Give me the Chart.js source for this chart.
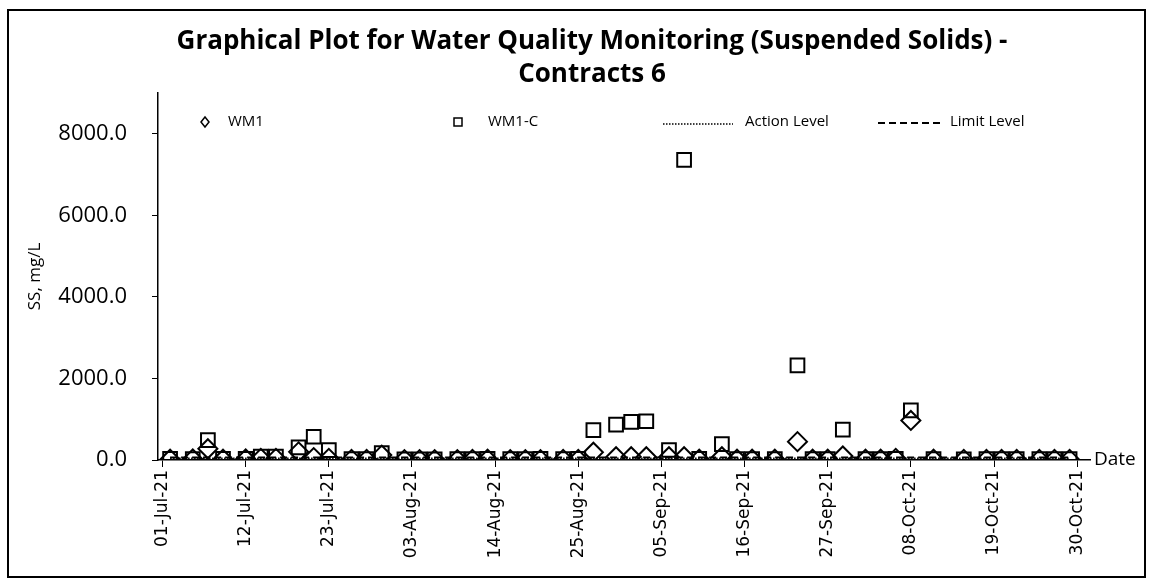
<!DOCTYPE html>
<html>
<head>
<meta charset="utf-8">
<title>Suspended Solids - Contracts 6</title>
<script src="https://cdn.jsdelivr.net/npm/chart.js@4.4.1/dist/chart.umd.min.js"></script>
<style>
  html, body { margin: 0; padding: 0; background: #fff; }
  canvas { display: block; }
</style>
</head>
<body>
<canvas id="chart" width="1152" height="582"></canvas>
<script>
// Fechas de muestreo y resultados de SS (mg/L)
const sampleDates = [
    '2021-07-02', '2021-07-05', '2021-07-07', '2021-07-09', '2021-07-12', '2021-07-14', '2021-07-16',
    '2021-07-19', '2021-07-21', '2021-07-23', '2021-07-26', '2021-07-28', '2021-07-30',
    '2021-08-02', '2021-08-04', '2021-08-06', '2021-08-09', '2021-08-11', '2021-08-13',
    '2021-08-16', '2021-08-18', '2021-08-20', '2021-08-23', '2021-08-25', '2021-08-27',
    '2021-08-30', '2021-09-01', '2021-09-03', '2021-09-06', '2021-09-08', '2021-09-10',
    '2021-09-13', '2021-09-15', '2021-09-17', '2021-09-20', '2021-09-23', '2021-09-25',
    '2021-09-27', '2021-09-29', '2021-10-02', '2021-10-04', '2021-10-06', '2021-10-08',
    '2021-10-11', '2021-10-15', '2021-10-18', '2021-10-20', '2021-10-22', '2021-10-25',
    '2021-10-27', '2021-10-29'
];
const wm1 = [
    20, 25, 275, 20, 25, 40, 40,
    200, 60, 40, 15, 15, 120,
    10, 10, 10, 10, 15, 20,
    10, 10, 10, 15, 15, 190,
    80, 80, 80, 80, 80, 20,
    80, 20, 20, 20, 450, 20,
    20, 100, 20, 20, 40, 970,
    20, 15, 15, 15, 15, 15,
    15, 15
];
const wm1c = [
    25, 20, 490, 30, 30, 85, 85,
    310, 570, 240, 20, 20, 170,
    15, 15, 15, 20, 20, 25,
    20, 20, 25, 20, 25, 730,
    870, 935, 950, 245, 7360, 30,
    390, 20, 20, 20, 2320, 20,
    20, 745, 20, 20, 30, 1215,
    20, 15, 20, 20, 20, 20,
    20, 20
];
const actionLevel = 40;
const limitLevel = 60;

const yTicks = [0, 2000, 4000, 6000, 8000];
const xTickLabels = ['01-Jul-21', '12-Jul-21', '23-Jul-21', '03-Aug-21', '14-Aug-21', '25-Aug-21',
    '05-Sep-21', '16-Sep-21', '27-Sep-21', '08-Oct-21', '19-Oct-21', '30-Oct-21'];
const titleLines = ['Graphical Plot for Water Quality Monitoring (Suspended Solids) -', 'Contracts 6'];

// días contados desde 01-Jul-21
const MONTHS = ['Jan', 'Feb', 'Mar', 'Apr', 'May', 'Jun', 'Jul', 'Aug', 'Sep', 'Oct', 'Nov', 'Dec'];
const DAY0 = Date.UTC(2021, 6, 1);
function isoToDay(s) {
    const p = s.split('-').map(Number);
    return (Date.UTC(p[0], p[1] - 1, p[2]) - DAY0) / 86400000;
}
function labelToDay(s) {
    const p = s.split('-');
    return (Date.UTC(2000 + Number(p[2]), MONTHS.indexOf(p[1]), Number(p[0])) - DAY0) / 86400000;
}

const xs = sampleDates.map(isoToDay);
const firstX = xs[0];
const lastX = xs[xs.length - 1];

const FONT = '"Open Sans", Lato, sans-serif';
Chart.defaults.font.family = FONT;
Chart.defaults.color = '#000';

// fondo, título, leyenda interior, rótulo "Date" y marco
const decor = {
    id: 'decor',
    beforeDraw(chart) {
        const ctx = chart.ctx;
        ctx.save();
        ctx.fillStyle = '#fff';
        ctx.fillRect(0, 0, chart.width, chart.height);
        ctx.restore();
    },
    afterDraw(chart) {
        const ctx = chart.ctx;
        const a = chart.chartArea;
        const ds = chart.data.datasets;
        ctx.save();
        ctx.fillStyle = '#000';
        ctx.strokeStyle = '#000';
        ctx.textBaseline = 'middle';

        // título
        ctx.textAlign = 'center';
        ctx.font = 'bold 26px ' + FONT;
        ctx.fillText(titleLines[0], 592, 42);
        ctx.fillText(titleLines[1], 592, 75);

        ctx.textAlign = 'left';
        ctx.font = '19px ' + FONT;
        ctx.fillText('Date', a.right + 4, a.bottom);

        const ly = a.top + 29;
        ctx.font = '15px ' + FONT;
        ctx.lineWidth = 1.5;
        // WM1
        ctx.beginPath();
        ctx.moveTo(a.left + 43, ly); ctx.lineTo(a.left + 47, ly - 5);
        ctx.lineTo(a.left + 51, ly); ctx.lineTo(a.left + 47, ly + 5);
        ctx.closePath(); ctx.stroke();
        ctx.fillText(ds[0].label, a.left + 70, ly);
        // WM1-C
        ctx.strokeRect(a.left + 296, ly - 4, 8, 8);
        ctx.fillText(ds[1].label, a.left + 330, ly);
        // Action Level
        ctx.setLineDash(ds[2].borderDash);
        ctx.beginPath(); ctx.moveTo(a.left + 505, ly + 2); ctx.lineTo(a.left + 575, ly + 2); ctx.stroke();
        ctx.setLineDash([]);
        ctx.fillText(ds[2].label, a.left + 587, ly);
        // Limit Level
        ctx.lineWidth = 2;
        ctx.setLineDash(ds[3].borderDash);
        ctx.beginPath(); ctx.moveTo(a.left + 720, ly + 1); ctx.lineTo(a.left + 782, ly + 1); ctx.stroke();
        ctx.setLineDash([]);
        ctx.fillText(ds[3].label, a.left + 792, ly);

        ctx.lineWidth = 2;
        ctx.strokeRect(8, 10, chart.width - 15, chart.height - 15);
        ctx.restore();
    }
};

const chart = new Chart(document.getElementById('chart'), {
    type: 'scatter',
    data: {
        datasets: [{
            label: 'WM1',
            data: xs.map((x, i) => ({ x: x, y: wm1[i] })),
            pointStyle: 'rectRot',
            pointRadius: 9.5,
            pointBorderWidth: 2,
            borderColor: '#000',
            backgroundColor: 'rgba(0,0,0,0)'
        }, {
            label: 'WM1-C',
            data: xs.map((x, i) => ({ x: x, y: wm1c[i] })),
            pointStyle: 'rect',
            pointRadius: 9.7,
            pointBorderWidth: 2,
            borderColor: '#000',
            backgroundColor: 'rgba(0,0,0,0)'
        }, {
            label: 'Action Level',
            data: [{ x: firstX, y: actionLevel }, { x: lastX, y: actionLevel }],
            showLine: true,
            borderColor: '#000',
            borderWidth: 1.5,
            borderDash: [1.5, 1.5],
            pointRadius: 0
        }, {
            label: 'Limit Level',
            data: [{ x: firstX, y: limitLevel }, { x: lastX, y: limitLevel }],
            showLine: true,
            borderColor: '#000',
            borderWidth: 2,
            borderDash: [7, 4],
            pointRadius: 0
        }]
    },
    options: {
        responsive: false,
        animation: false,
        devicePixelRatio: 1,
        layout: { padding: { left: 0, right: 62, top: 93, bottom: 0 } },
        plugins: {
            legend: { display: false },
            tooltip: { enabled: false },
            title: { display: false }
        },
        scales: {
            x: {
                type: 'linear',
                min: -0.6,
                max: 122.7,
                afterBuildTicks: (scale) => {
                    scale.ticks = xTickLabels.map(l => ({ value: labelToDay(l) }));
                },
                afterFit: (scale) => { scale.height = 122; },
                ticks: {
                    autoSkip: false,
                    minRotation: 90,
                    maxRotation: 90,
                    padding: 3,
                    font: { family: 'DejaVu Sans', size: 17 },
                    callback: (v, i) => xTickLabels[i]
                },
                grid: { drawOnChartArea: false, tickLength: 7, color: '#000', lineWidth: 1 },
                border: { color: '#000', width: 1.5 }
            },
            y: {
                min: 0,
                max: 9000,
                afterBuildTicks: (scale) => {
                    scale.ticks = yTicks.map(v => ({ value: v }));
                },
                afterFit: (scale) => { scale.width = 158; },
                ticks: {
                    padding: 25,
                    font: { size: 22 },
                    callback: (v) => v.toFixed(1)
                },
                grid: { drawOnChartArea: false, tickLength: 6, color: '#000', lineWidth: 1 },
                border: { color: '#000', width: 1.5 },
                title: {
                    display: true,
                    text: 'SS, mg/L',
                    font: { size: 17 },
                    padding: { top: 25, bottom: 0 }
                }
            }
        }
    },
    plugins: [decor]
});
</script>
</body>
</html>
